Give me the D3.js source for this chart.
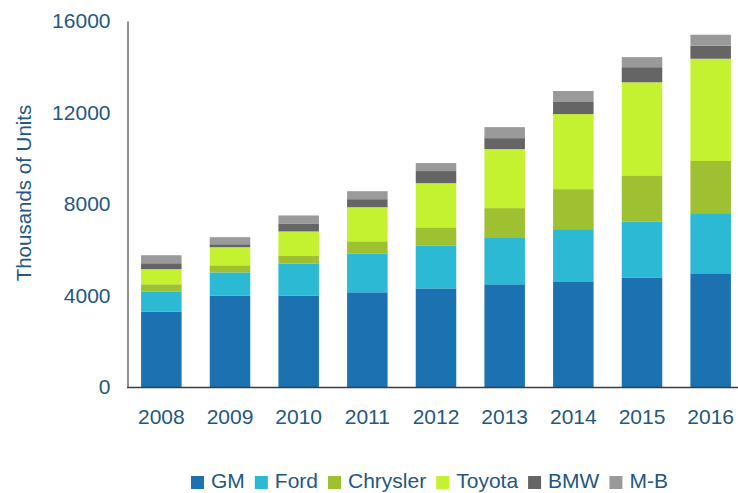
<!DOCTYPE html>
<html>
<head>
<meta charset="utf-8">
<script src="https://cdn.jsdelivr.net/npm/d3@7"></script>
<style>
  body { margin: 0; background: #fff; }
  text { font-family: "Liberation Sans", Arial, sans-serif; fill: #245781; }
</style>
</head>
<body>
<div id="chart"></div>
<script>
// values in thousands of units
var years = ["2008", "2009", "2010", "2011", "2012", "2013", "2014", "2015", "2016"];
var makers = ["GM", "Ford", "Chrysler", "Toyota", "BMW", "M-B"];
var gm       = [3300, 4000, 4000, 4140, 4310, 4490, 4620, 4790, 4970];
var ford     = [880, 1010, 1400, 1700, 1880, 2060, 2280, 2450, 2630];
var chrysler = [310, 310, 350, 530, 790, 1270, 1750, 2010, 2280];
var toyota   = [660, 790, 1050, 1490, 1930, 2580, 3280, 4070, 4470];
var bmw      = [260, 130, 350, 350, 530, 480, 530, 660, 570];
var mb       = [350, 310, 350, 350, 350, 480, 480, 440, 480];
var yTicks   = [0, 4000, 8000, 12000, 16000];

var colors = ["#1c72b0", "#2bb9d3", "#9fc031", "#c4f230", "#656565", "#9a9a9a"];

var width = 738, height = 493;

var svg = d3.select("#chart").append("svg")
    .attr("width", width)
    .attr("height", height);

// build rows for d3.stack
var series = [gm, ford, chrysler, toyota, bmw, mb];
var rows = years.map(function(yr, i) {
  var row = {year: yr};
  makers.forEach(function(m, j) { row[m] = series[j][i]; });
  return row;
});

var x = d3.scaleBand()
    .domain(years)
    .range([127, 745])
    .paddingInner(0.41)
    .paddingOuter(0.205);

var y = d3.scaleLinear()
    .domain([0, 16000])
    .range([387, 21]);

var z = d3.scaleOrdinal().domain(makers).range(colors);

var stack = d3.stack().keys(makers);

svg.append("g")
  .selectAll("g")
  .data(stack(rows))
  .enter().append("g")
    .attr("fill", function(d) { return z(d.key); })
  .selectAll("rect")
  .data(function(d) { return d; })
  .enter().append("rect")
    .attr("x", function(d) { return x(d.data.year); })
    .attr("y", function(d) { return y(d[1]); })
    .attr("height", function(d) { return y(d[0]) - y(d[1]); })
    .attr("width", x.bandwidth());

// y axis
var yAxis = svg.append("g")
    .attr("transform", "translate(127.5,0)")
    .call(d3.axisLeft(y).tickValues(yTicks).tickFormat(d3.format("d")).tickSize(0).tickPadding(17));
yAxis.select(".domain").attr("stroke", "#222").attr("stroke-width", 1);
yAxis.selectAll("text")
    .style("font-size", "21px")
    .style("font-family", "'Liberation Sans', Arial, sans-serif")
    .attr("fill", "#245781");

// x axis
var xAxis = svg.append("g")
    .attr("transform", "translate(0,387)")
    .call(d3.axisBottom(x).tickSize(0).tickPadding(22));
xAxis.select(".domain")
    .attr("d", "M127,0.5H738")
    .attr("stroke", "#3c3c3c")
    .attr("stroke-width", 1.6);
xAxis.selectAll("text")
    .style("font-size", "21px")
    .style("font-family", "'Liberation Sans', Arial, sans-serif")
    .attr("fill", "#245781");

svg.append("text")
    .attr("transform", "translate(31,193) rotate(-90)")
    .attr("text-anchor", "middle")
    .style("font-size", "20.5px")
    .text("Thousands of Units");

// legend
var legend = svg.append("g").attr("transform", "translate(191,0)");
var lx = 0;
makers.forEach(function(m) {
  var item = legend.append("g").attr("transform", "translate(" + lx + ",0)");
  item.append("rect")
      .attr("x", 0)
      .attr("y", 476)
      .attr("width", 13)
      .attr("height", 13)
      .attr("fill", z(m));
  var t = item.append("text")
      .attr("x", 20)
      .attr("y", 488)
      .style("font-size", "21px")
      .text(m);
  lx += 20 + t.node().getComputedTextLength() + 10;
});
</script>
</body>
</html>
